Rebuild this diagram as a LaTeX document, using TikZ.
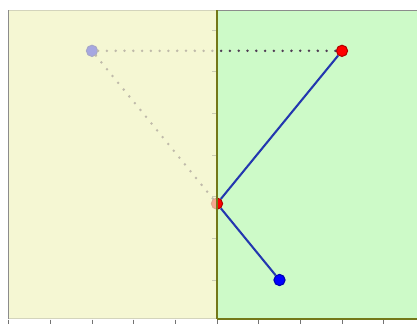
\documentclass[tikz,border=0pt]{standalone}
\usepackage{tikz}
\definecolor{paper}{RGB}{245,247,211}
\definecolor{field}{RGB}{205,250,200}
\definecolor{mirror}{RGB}{115,120,25}
\definecolor{trace}{RGB}{80,60,85}
\definecolor{beam}{RGB}{35,55,175}
\tikzset{
  ball/.style={circle, draw=#1!70!black, fill=#1, line width=0.7pt, minimum size=0.27cm, inner sep=0pt},
  ray/.style={draw=beam, line width=1.4pt},
  ghostray/.style={draw=trace, line width=1.9pt, line cap=round, dash pattern=on 0pt off 6pt},
  tickmark/.style={draw=black!55, line width=0.5pt},
  frame/.style={draw=black!45, line width=0.5pt}
}

\begin{document}
\begin{tikzpicture}
  \useasboundingbox (-5.208,-1.08) rectangle (4.80,6.72);
  \fill[white] (-5.208,-1.08) rectangle (4.80,6.72);

  \fill[paper] (-5,-0.93) rectangle (0,6.48);
  \fill[field] (0,-0.93) rectangle (4.9,6.48);
  \draw[frame] (4.9,6.48) -- (-5,6.48) -- (-5,-0.93) -- (4.9,-0.93);
  \foreach \y in {0,...,6}
    \draw[tickmark] (-0.12,\y) -- (0,\y);

  \node[ball=red] (top) at (3,5.5) {};
  \node[ball=red] (hit) at (0,1.833) {};
  \node[ball=blue] (src) at (1.5,0) {};
  \node[ball=blue] (image) at (-3,5.5) {};

  \draw[ray] (src) -- (hit) -- (top);
  \draw[ghostray] (image) -- (top);
  \draw[ghostray] (image) -- (hit);

  % faded half
  \fill[paper, opacity=0.68] (-5,-0.93) rectangle (0,6.48);

  \draw[mirror, line width=1.8pt] (0,-0.93) -- (0,6.48);
  \draw[mirror, line width=1.3pt] (0,-0.93) -- (4.9,-0.93);
  \foreach \x in {-5,...,4}
    \draw[tickmark] (\x,-0.95) -- (\x,-1.06);
\end{tikzpicture}
\end{document}
